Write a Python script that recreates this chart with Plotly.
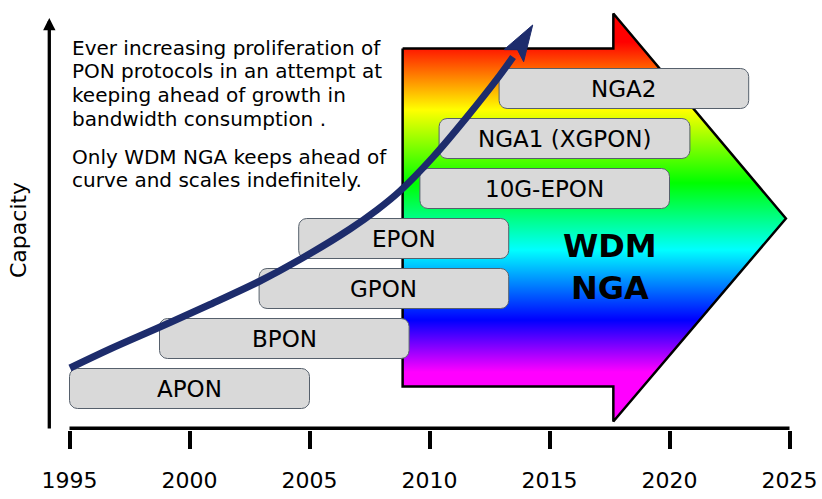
import math
import plotly.graph_objects as go

# ---------------- data ----------------
tick_years = [1995, 2000, 2005, 2010, 2015, 2020, 2025]

protocols = ["APON", "BPON", "GPON", "EPON", "10G-EPON", "NGA1 (XGPON)", "NGA2"]
start_year = [1995.0, 1998.75, 2002.9, 2004.55, 2009.6, 2010.4, 2012.9]
end_year = [2005.0, 2009.15, 2013.3, 2013.3, 2020.0, 2020.85, 2023.3]
capacity_level = [1, 2, 3, 4, 5, 6, 7]

# bandwidth-consumption growth curve
curve_year = [1995.02, 1996.69, 1998.77, 2000.85, 2002.94, 2004.60, 2006.69,
              2007.81, 2008.77, 2010.15, 2011.56, 2012.94, 2013.48]
curve_level = [1.41, 1.79, 2.23, 2.68, 3.15, 3.58, 4.19,
               4.57, 4.95, 5.63, 6.43, 7.27, 7.63]
curve_tip_year = 2014.3
curve_tip_level = 8.27

# WDM NGA block arrow outline
wdm_year = [2008.88, 2017.66, 2017.66, 2024.85, 2017.66, 2017.66, 2008.88, 2008.88]
wdm_level = [7.80, 7.80, 8.50, 4.40, 0.34, 1.04, 1.04, 7.80]

# rainbow gradient (position as capacity level, colour)
grad_levels = [0.34, 1.33, 2.37, 3.77, 5.11, 6.57, 7.93, 8.50]
grad_colors = ["#ff00ff", "#ff00ff", "#0000ff", "#00ffff", "#00ff00",
               "#ffff00", "#ff0000", "#ff0000"]

text_lines = ["Ever increasing proliferation of",
              "PON protocols in an attempt at",
              "keeping ahead of growth in",
              "bandwidth consumption .",
              "Only WDM NGA keeps ahead of",
              "curve and scales indefinitely."]
text_line_level = [7.81, 7.35, 6.87, 6.39, 5.63, 5.17]

# ---------------- layout constants ----------------
W, H = 822, 499
MB = 69
PX_YEAR = 24.0     # pixels per year
PX_LEVEL = 50.0    # pixels per capacity level
X0_PX = 69.5       # pixel of 1995
L1_PX = 388.5      # pixel of level 1
x_range = [1995 - X0_PX / PX_YEAR, 1995 + (W - X0_PX) / PX_YEAR]
plot_h = H - MB
y_range = [1 + (L1_PX - plot_h) / PX_LEVEL, 1 + L1_PX / PX_LEVEL]

FONT = "DejaVu Sans"
NAVY = "#1d2c6c"

fig = go.Figure()

# WDM NGA gradient arrow
g0, g1 = grad_levels[0], grad_levels[-1]
cscale = [[(l - g0) / (g1 - g0), c] for l, c in zip(grad_levels, grad_colors)]
fig.add_trace(go.Scatter(
    x=wdm_year, y=wdm_level, mode="lines", fill="toself",
    line=dict(color="black", width=2.5),
    fillgradient=dict(type="vertical", colorscale=cscale, start=g0, stop=g1),
    hoverinfo="skip", showlegend=False))

# rounded protocol boxes
BOX_H_PX = 40.0
RAD_PX = 8.0
rx = RAD_PX / PX_YEAR
ry = RAD_PX / PX_LEVEL
hh = BOX_H_PX / 2 / PX_LEVEL


def rounded_box(x0, x1, yc):
    y0, y1 = yc - hh, yc + hh
    corners = [(x1 - rx, y1 - ry, 0), (x0 + rx, y1 - ry, 90),
               (x0 + rx, y0 + ry, 180), (x1 - rx, y0 + ry, 270)]
    xs, ys = [], []
    for cx, cy, a0 in corners:
        for k in range(9):
            a = math.radians(a0 + k * 90 / 8)
            xs.append(cx + rx * math.cos(a))
            ys.append(cy + ry * math.sin(a))
    xs.append(xs[0])
    ys.append(ys[0])
    return xs, ys


bx, by = [], []
for s, e, l in zip(start_year, end_year, capacity_level):
    xs, ys = rounded_box(s, e, l)
    bx += xs + [None]
    by += ys + [None]
fig.add_trace(go.Scatter(
    x=bx, y=by, mode="lines", fill="toself", fillcolor="#d9d9d9",
    line=dict(color="#56606c", width=1), hoverinfo="skip", showlegend=False))

# growth curve
fig.add_trace(go.Scatter(
    x=curve_year, y=curve_level, mode="lines",
    line=dict(color=NAVY, width=7, shape="spline", smoothing=1.0),
    hoverinfo="skip", showlegend=False))

# arrowhead of growth curve (computed in pixel space)
HEAD_LEN, HEAD_HALF, NOTCH = 36.0, 11.5, 7.0
tx, ty = curve_tip_year * PX_YEAR, curve_tip_level * PX_LEVEL
bxp, byp = curve_year[-1] * PX_YEAR, curve_level[-1] * PX_LEVEL
d = math.hypot(bxp - tx, byp - ty)
ux, uy = (bxp - tx) / d, (byp - ty) / d
nx, ny = -uy, ux
backx, backy = tx + ux * HEAD_LEN, ty + uy * HEAD_LEN
pts = [(tx, ty),
       (backx + nx * HEAD_HALF, backy + ny * HEAD_HALF),
       (tx + ux * (HEAD_LEN - NOTCH), ty + uy * (HEAD_LEN - NOTCH)),
       (backx - nx * HEAD_HALF, backy - ny * HEAD_HALF),
       (tx, ty)]
fig.add_trace(go.Scatter(
    x=[p[0] / PX_YEAR for p in pts], y=[p[1] / PX_LEVEL for p in pts],
    mode="lines", fill="toself", fillcolor=NAVY, line=dict(color=NAVY, width=1),
    hoverinfo="skip", showlegend=False))

# x-axis base line
axis_level = 1 + (L1_PX - 428.3) / PX_LEVEL
fig.add_shape(type="line", xref="x", yref="y", x0=tick_years[0], x1=tick_years[-1],
              y0=axis_level, y1=axis_level, line=dict(color="black", width=3.5))

annotations = []
# box labels
for name, s, e, l in zip(protocols, start_year, end_year, capacity_level):
    annotations.append(dict(x=(s + e) / 2, y=l, xref="x", yref="y", text=name,
                            showarrow=False, font=dict(family=FONT, size=23, color="black")))
# paragraph text
for t, l in zip(text_lines, text_line_level):
    annotations.append(dict(x=1995, y=l, xref="x", yref="y", text=t, xanchor="left",
                            yanchor="middle", showarrow=False,
                            font=dict(family=FONT, size=20, color="black")))
# WDM NGA label
annotations.append(dict(x=2017.52, y=3.44, xref="x", yref="y", text="<b>WDM<br>NGA</b>",
                        showarrow=False, align="center",
                        font=dict(family=FONT, size=32, color="black")))
# y axis arrow and title
yax_x = 1995 + (49.3 - X0_PX) / PX_YEAR
annotations.append(dict(x=yax_x, y=1 + (L1_PX - 18) / PX_LEVEL, ax=yax_x, ay=y_range[0],
                        xref="x", yref="y", axref="x", ayref="y", text="", showarrow=True,
                        arrowhead=2, arrowsize=0.75, arrowwidth=3.3, arrowcolor="black"))
annotations.append(dict(x=1995 + (18 - X0_PX) / PX_YEAR, y=1 + (L1_PX - 230) / PX_LEVEL,
                        xref="x", yref="y", text="Capacity", textangle=-90, showarrow=False,
                        font=dict(family=FONT, size=22, color="black")))

fig.update_layout(
    width=W, height=H, autosize=False,
    margin=dict(l=0, r=0, t=0, b=MB, pad=0),
    paper_bgcolor="white", plot_bgcolor="white",
    showlegend=False,
    annotations=annotations,
    xaxis=dict(range=x_range, tickmode="array", tickvals=tick_years,
               ticktext=[str(y) for y in tick_years],
               ticks="outside", ticklen=18, tickwidth=3.5, tickcolor="black",
               ticklabelstandoff=13,
               showgrid=False, zeroline=False, showline=False, fixedrange=True,
               tickfont=dict(family=FONT, size=22, color="black")),
    yaxis=dict(range=y_range, visible=False, fixedrange=True),
)

fig.write_html("out.html", post_script="document.body.style.margin='0';",
               config={"displayModeBar": False})
